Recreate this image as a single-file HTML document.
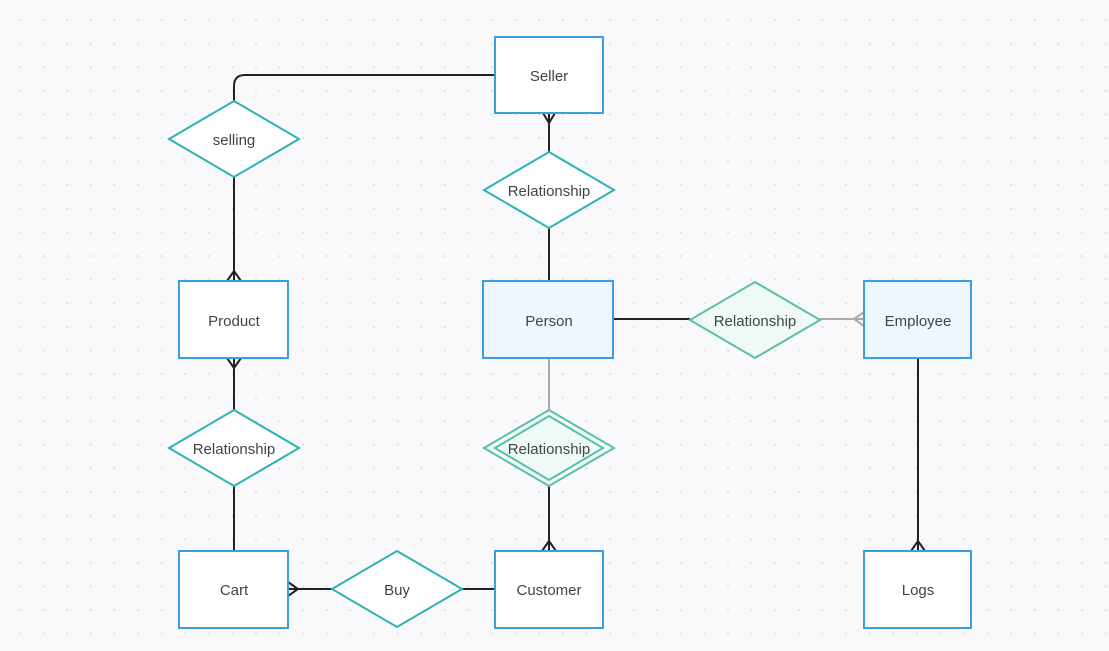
<!DOCTYPE html>
<html><head><meta charset="utf-8"><style>
body{margin:0;width:1109px;height:651px;overflow:hidden;background:#f9f9fb;}
svg{display:block}
text{font-family:"Liberation Sans",sans-serif;font-size:15px;text-anchor:middle;dominant-baseline:central;fill:#444}
</style></head><body>
<svg width="1109" height="651" viewBox="0 0 1109 651">
<defs><pattern id="d" width="23.6" height="23.6" patternUnits="userSpaceOnUse" x="8" y="8"><circle cx="12" cy="12" r="1.1" fill="#dcdde3"/></pattern></defs>
<rect width="1109" height="651" fill="url(#d)"/>
<g fill="none" stroke="#222" stroke-width="2">
<path d="M495 75 H245 Q234 75 234 86 V101"/>
<path d="M234 177 V281"/>
<path d="M549 113 V152"/>
<path d="M549 228 V281"/>
<path d="M234 358 V410"/>
<path d="M234 486 V551"/>
<path d="M613 319 H690"/>
<path d="M288 589 H332"/>
<path d="M462 589 H495"/>
<path d="M549 486 V551"/>
<path d="M918 358 V551"/>
<path d="M543 113 L549 123 L555 113"/>
<path d="M227 281 L234 271 L241 281"/>
<path d="M227 358 L234 368 L241 358"/>
<path d="M288 582 L298 589 L288 596"/>
<path d="M542 551 L549 541 L556 551"/>
<path d="M911 551 L918 541 L925 551"/>
</g>
<g fill="none" stroke="#aaa" stroke-width="2">
<path d="M549 358 V410"/>
<path d="M820 319 H864"/>
<path d="M864 312 L854 319 L864 326"/>
</g>
<g stroke="#3a9fe0" stroke-width="2">
<rect x="495" y="37" width="108" height="76" fill="#fff"/>
<rect x="179" y="281" width="109" height="77" fill="#fff"/>
<rect x="483" y="281" width="130" height="77" fill="#eef6ff"/>
<rect x="864" y="281" width="107" height="77" fill="#eef6ff"/>
<rect x="179" y="551" width="109" height="77" fill="#fff"/>
<rect x="495" y="551" width="108" height="77" fill="#fff"/>
<rect x="864" y="551" width="107" height="77" fill="#fff"/>
</g>
<g stroke="#2bb3b3" stroke-width="2" fill="#fff">
<path d="M234 101 L299 139 L234 177 L169 139Z"/>
<path d="M549 152 L614 190 L549 228 L484 190Z"/>
<path d="M234 410 L299 448 L234 486 L169 448Z"/>
<path d="M397 551 L462 589 L397 627 L332 589Z"/>
</g>
<g stroke="#5bbfa8" stroke-width="2" fill="#effaf6">
<path d="M755 282 L820 320 L755 358 L690 320Z"/>
<path d="M549 410 L614 448 L549 486 L484 448Z"/>
<path d="M549 416 L603 448 L549 480 L495 448Z" fill="none"/>
</g>
<g transform="translate(0,1.5)">
<text x="549" y="75">Seller</text>
<text x="234" y="139">selling</text>
<text x="549" y="190">Relationship</text>
<text x="234" y="320" fill="#666">Product</text>
<text x="549" y="320">Person</text>
<text x="755" y="320" fill="#2f5a55">Relationship</text>
<text x="918" y="320" fill="#2b5d8a">Employee</text>
<text x="234" y="448">Relationship</text>
<text x="549" y="448" fill="#2f5a55">Relationship</text>
<text x="234" y="589" fill="#555">Cart</text>
<text x="397" y="589">Buy</text>
<text x="549" y="589" fill="#555">Customer</text>
<text x="918" y="589" fill="#555">Logs</text>
</g>
</svg>
</body></html>
